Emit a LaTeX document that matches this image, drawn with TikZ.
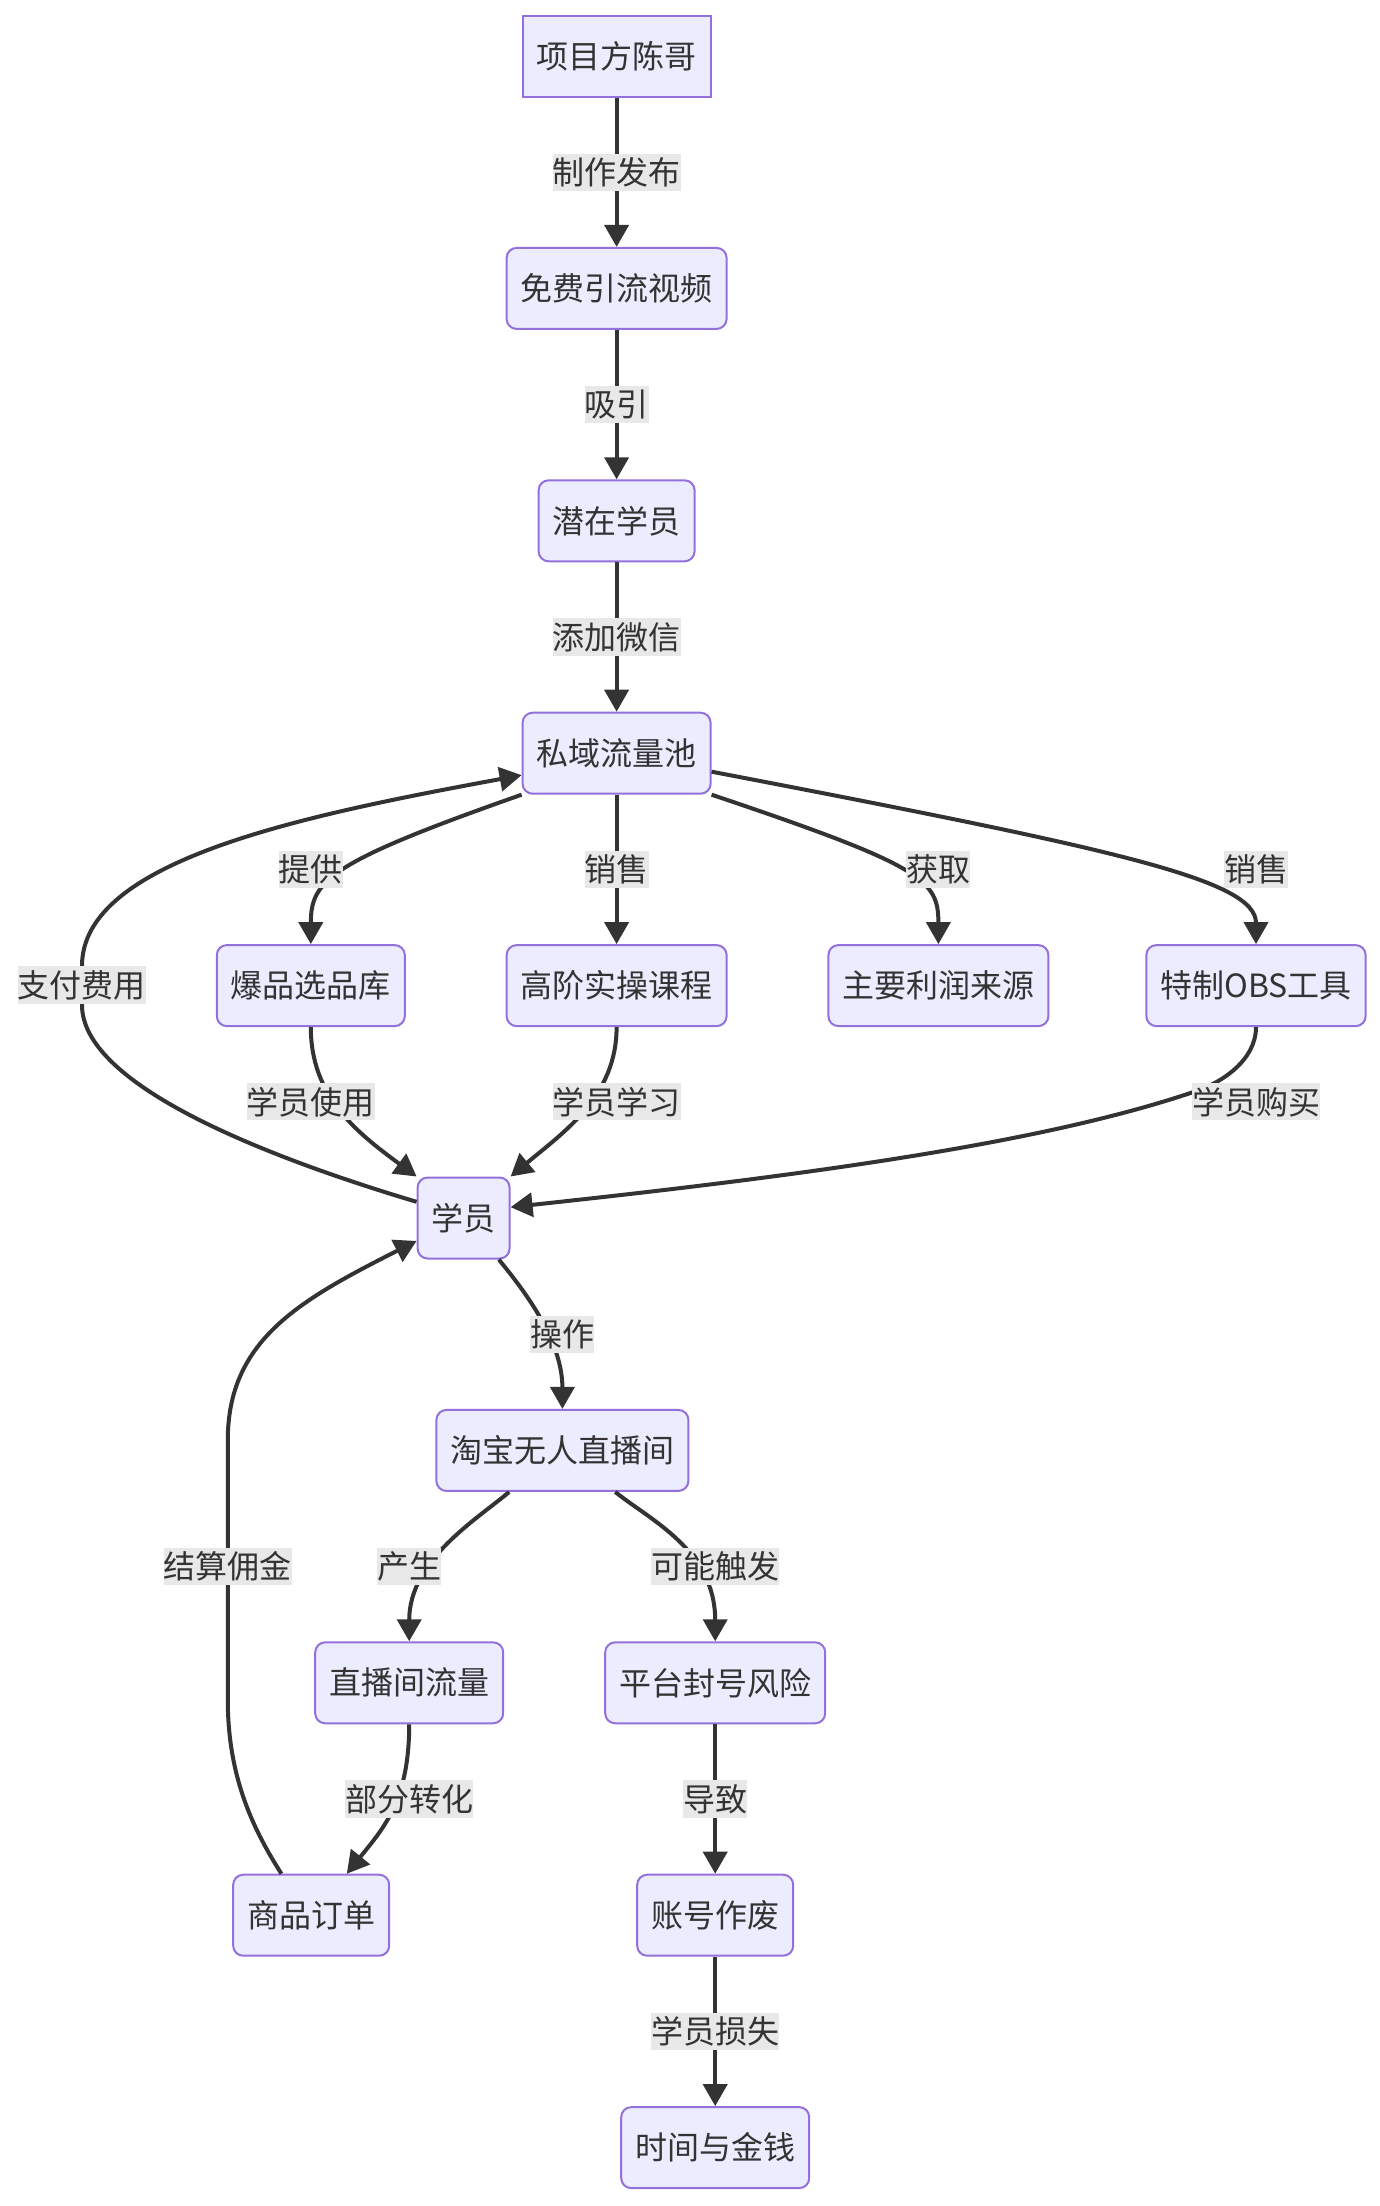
\documentclass[tikz,border=0pt]{standalone}
\usepackage{fontspec}
\setmainfont{Noto Sans CJK SC}
\usetikzlibrary{arrows.meta}
\definecolor{boxfill}{HTML}{ECECFF}
\definecolor{boxline}{HTML}{9370DB}
\definecolor{ink}{HTML}{333333}
\definecolor{tagfill}{HTML}{E8E8E8}

\begin{document}
\begin{tikzpicture}[x=1pt, y=-1pt,
	box/.style={draw=boxline, fill=boxfill, line width=1pt, rounded corners=5pt, inner xsep=7pt, inner ysep=0pt, minimum height=40.5pt, text=ink, font=\fontsize{16pt}{19pt}\selectfont},
	tag/.style={fill=tagfill, inner xsep=0pt, inner ysep=0pt, minimum height=18.6pt, text=ink, font=\fontsize{16pt}{19pt}\selectfont},
	link/.style={draw=ink, line width=2pt, -{Triangle[length=11pt,width=12pt]}}]
			%%%%% START %%%%%
			
			\useasboundingbox (0, 0) rectangle (690, 1103);
			
			\node[box, sharp corners] (owner) at (308.3, 28) {项目方陈哥};
			\node[box] (video) at (308.3, 144.2) {免费引流视频};
			\node[box] (lead) at (308.3, 260.4) {潜在学员};
			\node[box] (pool) at (308.3, 376.6) {私域流量池};
			
			\node[box] (picks) at (155.4, 492.8) {爆品选品库};
			\node[box] (course) at (308.3, 492.8) {高阶实操课程};
			\node[box] (profit) at (469.2, 492.8) {主要利润来源};
			\node[box] (obs) at (628, 492.8) {特制OBS工具};
			
			\node[box] (stu) at (231.8, 609) {学员};
			\node[box] (live) at (281.2, 725.2) {淘宝无人直播间};
			\node[box] (flow) at (204.6, 841.4) {直播间流量};
			\node[box] (risk) at (357.6, 841.4) {平台封号风险};
			\node[box] (order) at (155.6, 957.6) {商品订单};
			\node[box] (dead) at (357.6, 957.6) {账号作废};
			\node[box] (loss) at (357.6, 1073.8) {时间与金钱};
			
			\draw[link] (owner) -- (video);
			\draw[link] (video) -- (lead);
			\draw[link] (lead) -- (pool);
			\draw[link] (pool) -- (course);
			\draw[link] (pool.south west) .. controls (165, 431) and (155.4, 440) .. (picks.north);
			\draw[link] (pool.south east) .. controls (462, 433) and (469.2, 440) .. (profit.north);
			\draw[link] (pool.-11) .. controls (560, 425) and (628, 440) .. (obs.north);
			
			\draw[link] (picks.south) .. controls (155.4, 548) and (178, 566) .. (stu.north west);
			\draw[link] (course.south) .. controls (308.3, 548) and (282, 566) .. (stu.north east);
			\draw[link] (obs.south) .. controls (628, 530) and (611, 541.5) .. (596.7, 546) .. controls (520, 572) and (400, 588) .. (stu.13);
			\draw[link] (stu.161) .. controls (121.6, 575) and (41, 540) .. (41, 502.5) -- (41, 482.9) .. controls (41, 430) and (152, 407.7) .. (pool.193);
			
			\draw[link] ([xshift=17.6pt]stu.south) .. controls (261.9, 645) and (281.2, 670) .. (live.north);
			\draw[link] ([xshift=-26.6pt]live.south) .. controls (238, 760) and (204.6, 780) .. (flow.north);
			\draw[link] ([xshift=26.4pt]live.south) .. controls (325, 760) and (357.6, 775) .. (risk.north);
			\draw[link] (flow.south) .. controls (204.6, 900) and (192, 913.8) .. ([xshift=17.8pt]order.north);
			\draw[link] ([xshift=-14.9pt]order.north) .. controls (127.7, 916.3) and (113.9, 890) .. (113.9, 850) -- (113.9, 720) .. controls (113.9, 670) and (150, 650) .. (stu.206);
			\draw[link] (risk) -- (dead);
			\draw[link] (dead) -- (loss);
			
			\node[tag] (t-make) at (308.3, 86.1) {制作发布};
			\node[tag] (t-draw) at (308.3, 202.3) {吸引};
			\node[tag] (t-wx) at (308.3, 318.5) {添加微信};
			\node[tag] (t-give) at (155.4, 434.7) {提供};
			\node[tag] (t-sell) at (308.3, 434.7) {销售};
			\node[tag] (t-gain) at (469.2, 434.7) {获取};
			\node[tag] (t-sell2) at (628, 434.7) {销售};
			\node[tag] (t-pay) at (40.9, 492.5) {支付费用};
			\node[tag] (t-use) at (155.4, 550.9) {学员使用};
			\node[tag] (t-learn) at (308.3, 550.9) {学员学习};
			\node[tag] (t-buy) at (628, 550.9) {学员购买};
			\node[tag] (t-run) at (281.2, 667.1) {操作};
			\node[tag] (t-yield) at (204.6, 783.3) {产生};
			\node[tag] (t-risk) at (357.6, 783.3) {可能触发};
			\node[tag] (t-fee) at (113.9, 783.3) {结算佣金};
			\node[tag] (t-conv) at (204.6, 899.5) {部分转化};
			\node[tag] (t-lead) at (357.6, 899.5) {导致};
			\node[tag] (t-lose) at (357.6, 1015.7) {学员损失};
			
			%%%%% END %%%%%
		\end{tikzpicture}
\end{document}
